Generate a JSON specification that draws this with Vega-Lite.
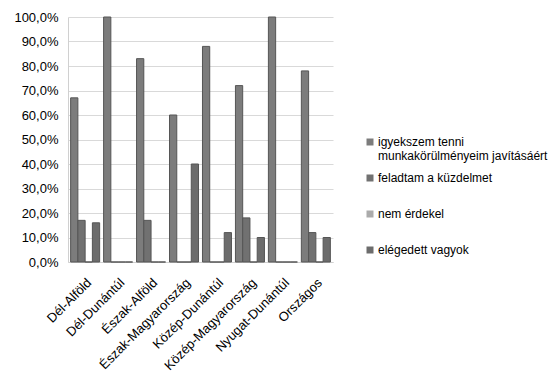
{
  "$schema": "https://vega.github.io/schema/vega-lite/v6.json",
  "autosize": {"type": "none"},
  "padding": {"left": 68, "top": 17, "right": 225, "bottom": 123},
  "width": 265,
  "height": 245,
  "background": "white",
  "data": {
    "values": [
      {"region": "Dél-Alföld", "series": "igyekszem tenni munkakörülményeim javításáért", "value": 0.67},
      {"region": "Dél-Alföld", "series": "feladtam a küzdelmet", "value": 0.17},
      {"region": "Dél-Alföld", "series": "nem érdekel", "value": 0},
      {"region": "Dél-Alföld", "series": "elégedett vagyok", "value": 0.16},
      {"region": "Dél-Dunántúl", "series": "igyekszem tenni munkakörülményeim javításáért", "value": 1.0},
      {"region": "Dél-Dunántúl", "series": "feladtam a küzdelmet", "value": 0},
      {"region": "Dél-Dunántúl", "series": "nem érdekel", "value": 0},
      {"region": "Dél-Dunántúl", "series": "elégedett vagyok", "value": 0},
      {"region": "Észak-Alföld", "series": "igyekszem tenni munkakörülményeim javításáért", "value": 0.83},
      {"region": "Észak-Alföld", "series": "feladtam a küzdelmet", "value": 0.17},
      {"region": "Észak-Alföld", "series": "nem érdekel", "value": 0},
      {"region": "Észak-Alföld", "series": "elégedett vagyok", "value": 0},
      {"region": "Észak-Magyarország", "series": "igyekszem tenni munkakörülményeim javításáért", "value": 0.6},
      {"region": "Észak-Magyarország", "series": "feladtam a küzdelmet", "value": 0},
      {"region": "Észak-Magyarország", "series": "nem érdekel", "value": 0},
      {"region": "Észak-Magyarország", "series": "elégedett vagyok", "value": 0.4},
      {"region": "Közép-Dunántúl", "series": "igyekszem tenni munkakörülményeim javításáért", "value": 0.88},
      {"region": "Közép-Dunántúl", "series": "feladtam a küzdelmet", "value": 0},
      {"region": "Közép-Dunántúl", "series": "nem érdekel", "value": 0},
      {"region": "Közép-Dunántúl", "series": "elégedett vagyok", "value": 0.12},
      {"region": "Közép-Magyarország", "series": "igyekszem tenni munkakörülményeim javításáért", "value": 0.72},
      {"region": "Közép-Magyarország", "series": "feladtam a küzdelmet", "value": 0.18},
      {"region": "Közép-Magyarország", "series": "nem érdekel", "value": 0},
      {"region": "Közép-Magyarország", "series": "elégedett vagyok", "value": 0.1},
      {"region": "Nyugat-Dunántúl", "series": "igyekszem tenni munkakörülményeim javításáért", "value": 1.0},
      {"region": "Nyugat-Dunántúl", "series": "feladtam a küzdelmet", "value": 0},
      {"region": "Nyugat-Dunántúl", "series": "nem érdekel", "value": 0},
      {"region": "Nyugat-Dunántúl", "series": "elégedett vagyok", "value": 0},
      {"region": "Országos", "series": "igyekszem tenni munkakörülményeim javításáért", "value": 0.78},
      {"region": "Országos", "series": "feladtam a küzdelmet", "value": 0.12},
      {"region": "Országos", "series": "nem érdekel", "value": 0},
      {"region": "Országos", "series": "elégedett vagyok", "value": 0.1}
    ]
  },
  "mark": {"type": "bar", "stroke": "#555555", "strokeWidth": 1},
  "encoding": {
    "x": {
      "field": "region",
      "type": "nominal",
      "sort": null,
      "scale": {"paddingInner": 0.12, "paddingOuter": 0.08},
      "axis": {
        "title": null,
        "labelAngle": -45,
        "labelFont": "Liberation Sans",
        "labelFontSize": 13,
        "labelColor": "#000000",
        "ticks": false,
        "domainColor": "#d0d0d0",
        "labelPadding": 14
      }
    },
    "xOffset": {
      "field": "series",
      "type": "nominal",
      "sort": ["igyekszem tenni munkakörülményeim javításáért", "feladtam a küzdelmet", "nem érdekel", "elégedett vagyok"]
    },
    "y": {
      "field": "value",
      "type": "quantitative",
      "scale": {"domain": [0, 1], "nice": false},
      "axis": {
        "title": null,
        "values": [0, 0.1, 0.2, 0.3, 0.4, 0.5, 0.6, 0.7, 0.8, 0.9, 1.0],
        "labelExpr": "replace(format(datum.value, '.1%'), '.', ',')",
        "labelFont": "Liberation Sans",
        "labelFontSize": 13,
        "labelColor": "#000000",
        "ticks": false,
        "labelPadding": 10,
        "domainColor": "#d0d0d0",
        "gridColor": "#d9d9d9"
      }
    },
    "color": {
      "field": "series",
      "type": "nominal",
      "sort": ["igyekszem tenni munkakörülményeim javításáért", "feladtam a küzdelmet", "nem érdekel", "elégedett vagyok"],
      "scale": {"range": ["#7c7c7c", "#717171", "#ababab", "#6c6c6c"]},
      "legend": {
        "title": null,
        "orient": "none",
        "legendX": 296,
        "legendY": 119,
        "symbolType": "square",
        "symbolSize": 49,
        "symbolStrokeWidth": 0,
        "labelFont": "Liberation Sans",
        "labelFontSize": 12,
        "labelColor": "#000000",
        "labelLimit": 0,
        "rowPadding": 10,
        "labelOffset": 2,
        "labelExpr": "datum.label == 'igyekszem tenni munkakörülményeim javításáért' ? ['igyekszem tenni', 'munkakörülményeim javításáért'] : [datum.label, '']"
      }
    }
  },
  "config": {
    "view": {"stroke": null}
  }
}
